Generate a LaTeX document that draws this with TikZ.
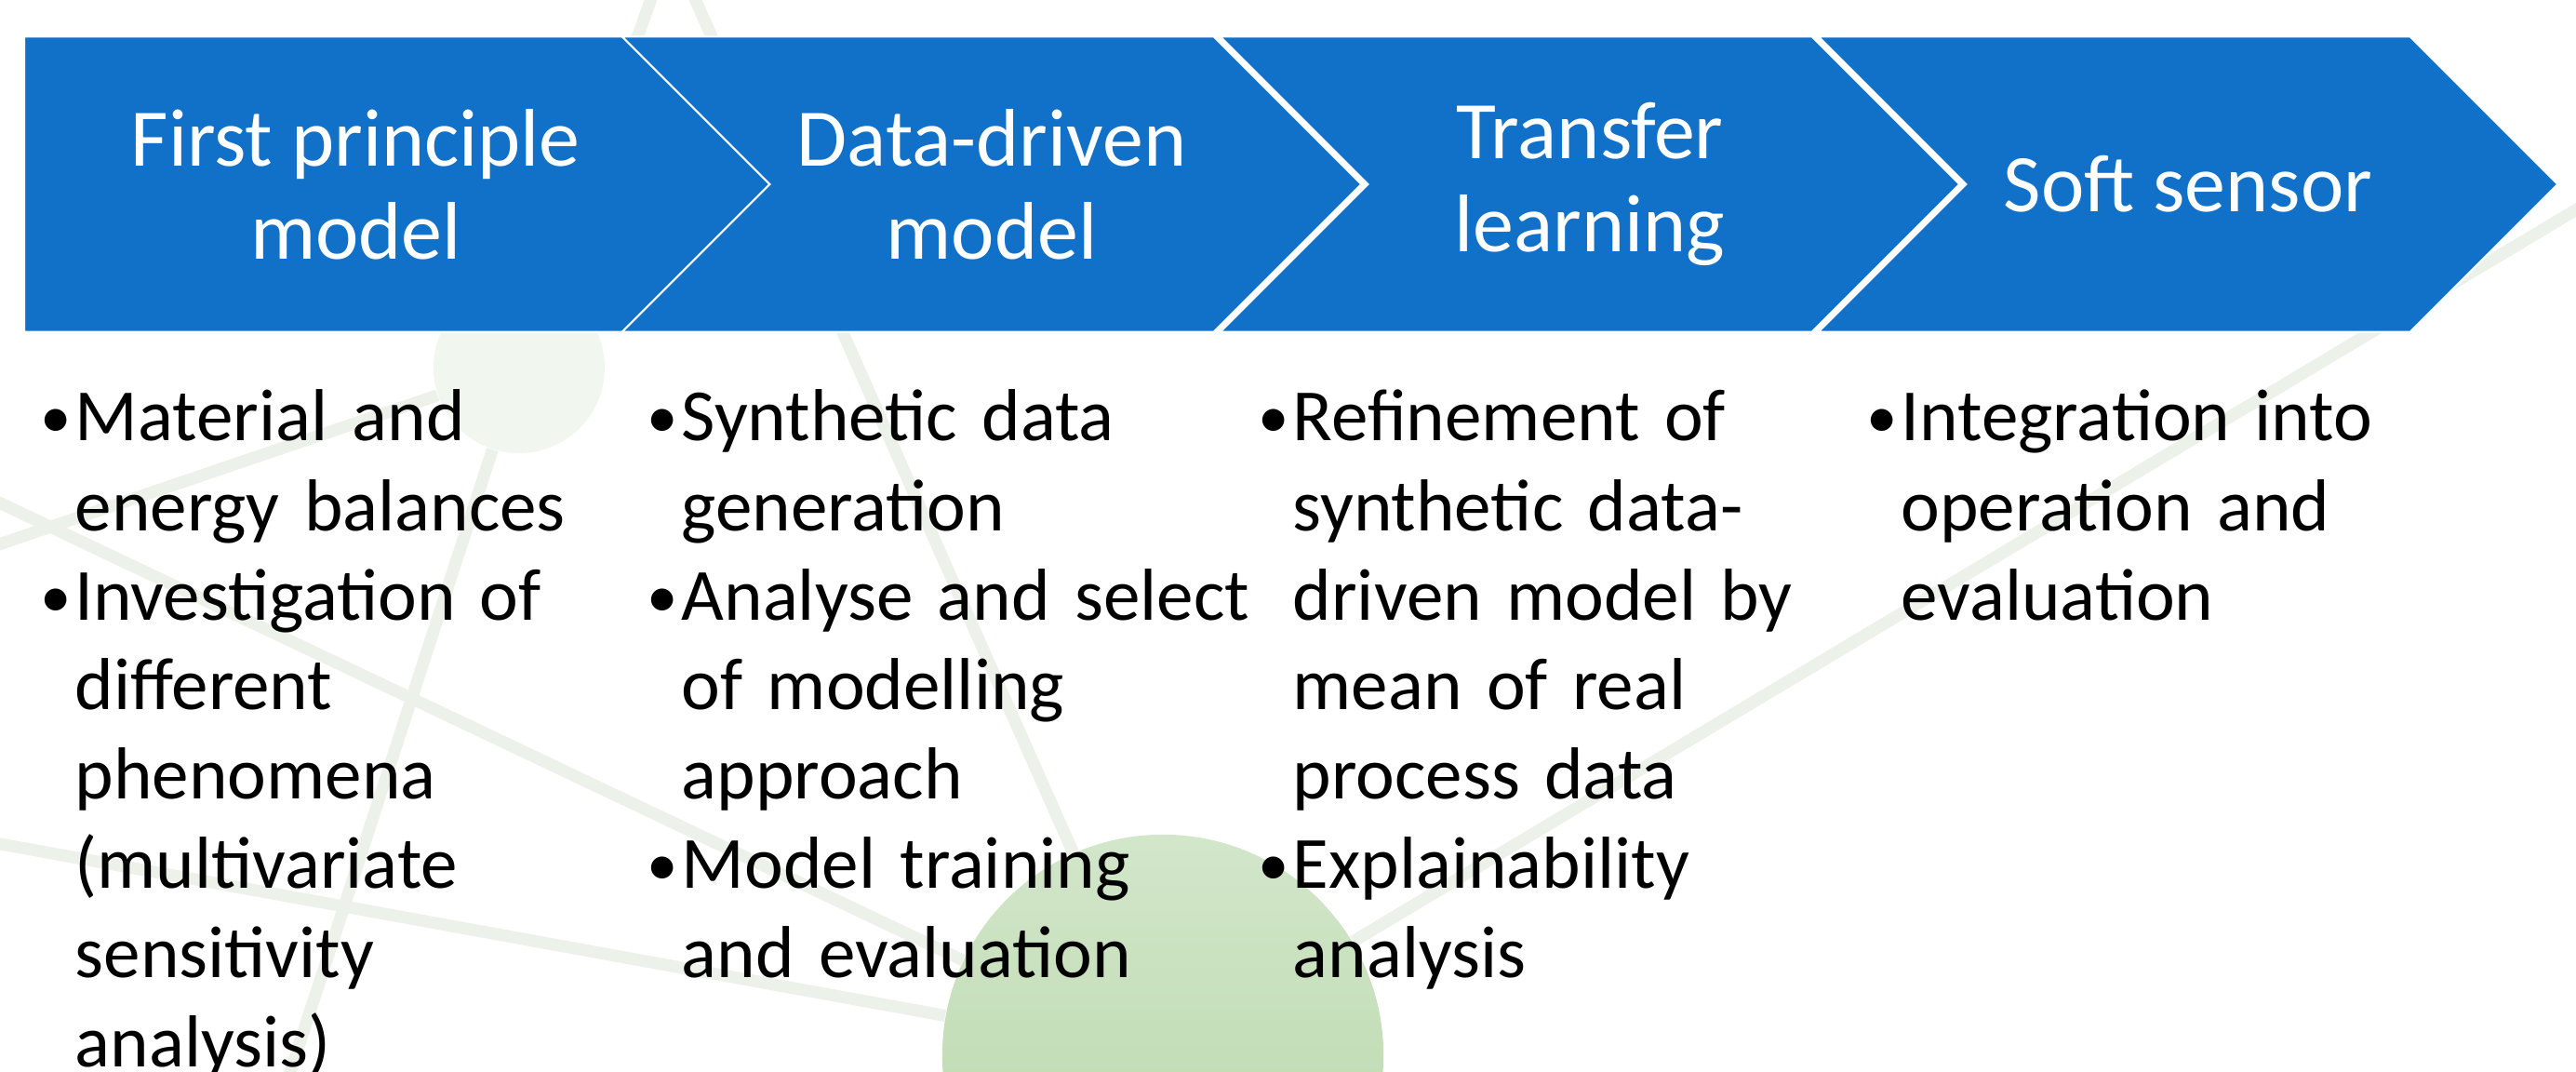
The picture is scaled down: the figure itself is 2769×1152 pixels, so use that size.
\documentclass[tikz,border=0pt]{standalone}
\usepackage{fontspec}
\setmainfont{Carlito}
\usepackage{xcolor}
\usepackage{tikz}
\usetikzlibrary{shapes.symbols}

\definecolor{chevblue}{RGB}{17,112,199}
\definecolor{netgreen}{RGB}{181,214,167}
\definecolor{netpale}{RGB}{241,247,238}
\definecolor{netline}{RGB}{236,241,233}

\hyphenpenalty=10000
\newcommand{\bul}{\makebox[0.36cm][l]{\hspace*{-0.01cm}\raisebox{0.03cm}{\fontsize{19}{19}\selectfont\textbullet}}}
\newcommand{\ind}{\hspace*{0.36cm}}

\begin{document}
\begin{tikzpicture}[x=0.01cm,y=-0.01cm]
				\useasboundingbox (0,0) rectangle (2769,1152);
				\clip (0,0) rectangle (2769,1152);
				
				% faint network in the background
				\begin{scope}[every node/.style={circle,inner sep=0pt}]
					\node[fill=netpale,minimum size=1.84cm] (small) at (558,395) {};
					\node[shade,top color=netgreen!60!white,bottom color=netgreen,minimum size=4.74cm] (big) at (1250,1134) {};
				\end{scope}
				\coordinate (hub) at (721,-60);
				\coordinate (e1) at (2830,189);
				\coordinate (e3) at (-60,896);
				\coordinate (e4) at (-60,512);
				\coordinate (e5) at (-60,605);
				\coordinate (e6) at (290,1220);
				
				\begin{scope}[every edge/.style={draw=netline,line width=0.13cm}]
					\path (big) edge (e1);
					\path (big) edge (hub);
					\path (big) edge (e3);
					\path (big) edge (e4);
					\path (small) edge (e5);
					\path (small) edge (e6);
					\path (small) edge (hub);
				\end{scope}
				
				% process chevrons
				\begin{scope}[every node/.style={signal,signal to=east,signal pointer angle=90,
						fill=chevblue,draw=white,line width=0.02cm,inner sep=0pt,
						minimum width=7.94cm,minimum height=3.17cm,
						text=white,align=center,font=\fontsize{25}{28.5}\selectfont}]
					\node[signal from=nowhere,minimum width=8.71cm,anchor=west] (fpm) at (25,198) {First principle\\model};
					\node[signal from=west] (ddm) at (1066,198) {Data-driven\\model};
					\node[signal from=west] (tl) at (1709,198) {Transfer\\learning};
					\node[signal from=west] (ss) at (2352,198) {Soft sensor};
				\end{scope}
				
				% bullet lists
				\begin{scope}[every node/.style={anchor=base west,inner sep=0pt,text width=8cm,
						align=left,font=\fontsize{22.5}{27.3}\selectfont}]
					\node (fpmlist) at (44,474) {\bul Material and\\\ind energy balances\\\bul Investigation of\\\ind different\\\ind phenomena\\\ind (multivariate\\\ind sensitivity\\\ind analysis)};
					\node (ddmlist) at (696,474) {\bul Synthetic data\\\ind generation\\\bul Analyse and select\\\ind of modelling\\\ind approach\\\bul Model training\\\ind and evaluation};
					\node (tllist) at (1353,474) {\bul Refinement of\\\ind synthetic data-\\\ind driven model by\\\ind mean of real\\\ind process data\\\bul Explainability\\\ind analysis};
					\node (sslist) at (2007,474) {\bul Integration into\\\ind operation and\\\ind evaluation};
				\end{scope}
			\end{tikzpicture}
\end{document}
